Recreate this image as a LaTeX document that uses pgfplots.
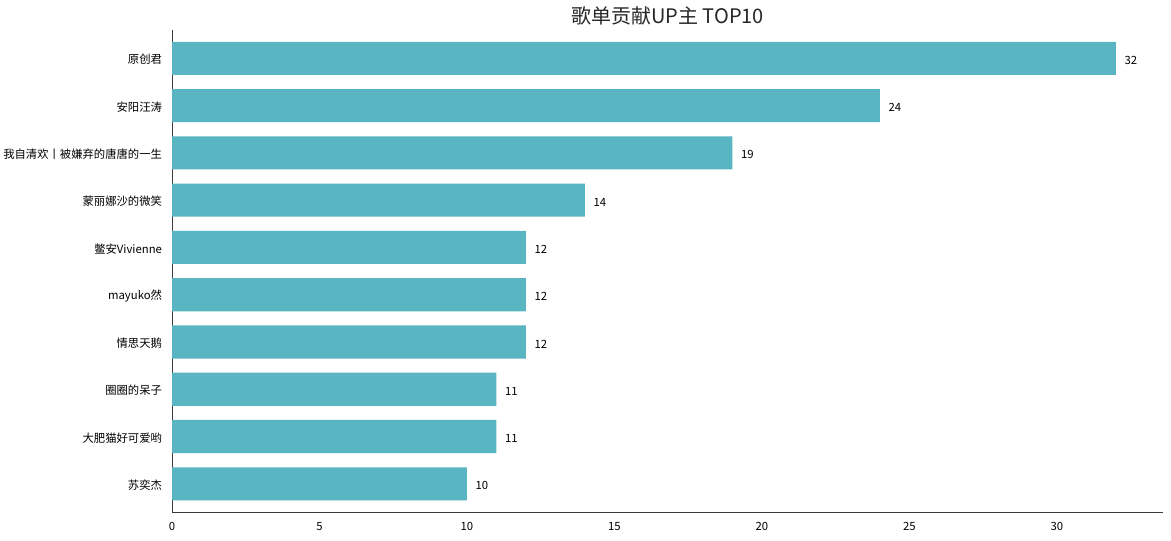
\documentclass[border=0pt]{standalone}
\usepackage{pgfplots}
\pgfplotsset{compat=1.18}
\usepackage{fontspec}
\setmainfont{Noto Sans CJK SC}
\definecolor{barc}{RGB}{90,181,194}
\definecolor{spine}{RGB}{60,60,60}
\begin{document}
\begin{tikzpicture}
\path[use as bounding box] (0,0) rectangle (878pt,405pt);
\begin{axis}[
  at={(129pt,21pt)}, anchor=south west,
  scale only axis, width=743pt, height=361.5pt,
  xbar, bar width=0.7,
  xmin=0, xmax=33.6,
  ymin=-0.6, ymax=9.6, y dir=reverse,
  ytick={0,...,9},
  yticklabels={原创君,安阳汪涛,我自清欢丨被嫌弃的唐唐的一生,蒙丽娜沙的微笑,鳖安Vivienne,mayuko然,情思天鹅,圈圈的呆子,大肥猫好可爱哟,苏奕杰},
  xtick={0,5,...,30},
  major tick length=0pt,
  axis x line*=bottom, axis y line*=left,
  axis line style={spine, line width=0.6pt},
  /pgf/number format/assume math mode=true,
  ticklabel style={font=\fontsize{8.5pt}{10pt}\selectfont, text=black},
  yticklabel style={xshift=-4pt, yshift=-1pt},
  xticklabel style={yshift=-4pt},
  nodes near coords,
  point meta=x,
  nodes near coords style={font=\fontsize{8.5pt}{10pt}\selectfont, anchor=west, xshift=3pt, yshift=-1.5pt, text=black},
  title={歌单贡献UP主 TOP10},
  title style={font=\fontsize{15pt}{18pt}\selectfont, text=black!85, yshift=-6pt},
]
\addplot[fill=barc, draw=none] coordinates {
(32,0) (24,1) (19,2) (14,3) (12,4) (12,5) (12,6) (11,7) (11,8) (10,9)
};
\end{axis}
\end{tikzpicture}
\end{document}
